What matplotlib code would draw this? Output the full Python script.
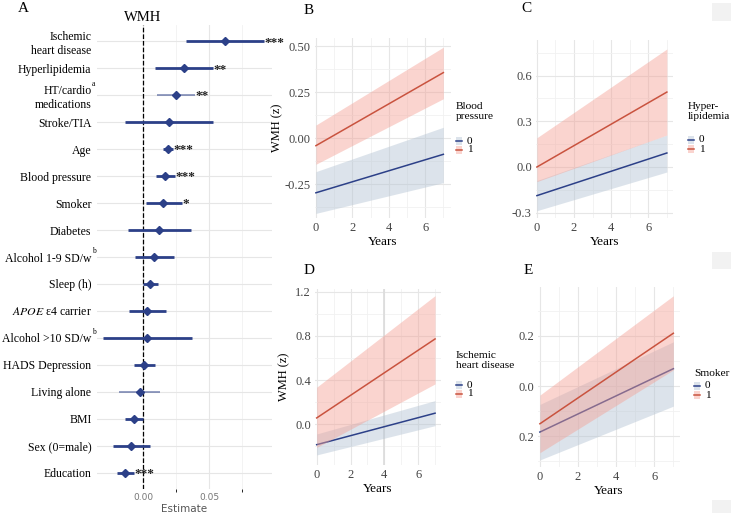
import matplotlib
matplotlib.use("Agg")
import matplotlib.pyplot as plt
from matplotlib.patches import Rectangle
from matplotlib.lines import Line2D

plt.rcParams['font.family'] = ['Liberation Serif', 'DejaVu Serif']
plt.rcParams['mathtext.fontset'] = 'stix'

# ---- Panel A data (top to bottom) ----
predictors = ["Ischemic\nheart disease", "Hyperlipidemia", "HT/cardio\nmedications",
              "Stroke/TIA", "Age", "Blood pressure", "Smoker", "Diabetes",
              "Alcohol 1-9 SD/w", "Sleep (h)", "$\\mathit{APOE}$ ε4 carrier",
              "Alcohol >10 SD/w", "HADS Depression", "Living alone", "BMI",
              "Sex (0=male)", "Education"]
footnotes = ["", "", "a", "", "", "", "", "", "b", "", "", "b", "", "", "", "", ""]
estimate = [0.0621, 0.0308, 0.0248, 0.0197, 0.0187, 0.0164, 0.0154, 0.0124,
            0.0086, 0.0055, 0.0030, 0.0028, 0.0010, -0.0025, -0.0068, -0.0089, -0.0134]
ci_low = [0.0326, 0.0091, 0.0106, -0.0134, 0.0149, 0.0101, 0.0023, -0.0116,
          -0.0060, -0.0002, -0.0104, -0.0300, -0.0068, -0.0179, -0.0134, -0.0225, -0.0197]
ci_high = [0.0917, 0.0528, 0.0392, 0.0528, 0.0225, 0.0240, 0.0293, 0.0366,
           0.0235, 0.0116, 0.0172, 0.0371, 0.0088, 0.0131, 0.0002, 0.0051, -0.0066]
stars = ["***", "**", "**", "", "***", "***", "*", "", "", "", "", "", "", "", "", "", "***"]

# ---- Panels B-E data: model predictions at year 0 and year 7 ----
years = [0, 7]
bp0_fit, bp0_lo, bp0_hi = [-0.296, -0.087], [-0.408, -0.241], [-0.181, 0.060]
bp1_fit, bp1_lo, bp1_hi = [-0.040, 0.357], [-0.141, 0.215], [0.072, 0.495]
hl0_fit, hl0_lo, hl0_hi = [-0.188, 0.092], [-0.287, -0.033], [-0.089, 0.210]
hl1_fit, hl1_lo, hl1_hi = [0.000, 0.492], [-0.096, 0.210], [0.192, 0.775]
ihd0_fit, ihd0_lo, ihd0_hi = [-0.185, 0.100], [-0.278, -0.013], [-0.088, 0.214]
ihd1_fit, ihd1_lo, ihd1_hi = [0.057, 0.772], [-0.210, 0.365], [0.335, 1.164]
sm0_fit, sm0_lo, sm0_hi = [-0.183, 0.069], [-0.294, -0.080], [-0.073, 0.176]
sm1_fit, sm1_lo, sm1_hi = [-0.150, 0.210], [-0.265, 0.064], [-0.036, 0.359]
group_labels = ["0", "1"]

W, H = 731, 513
fig = plt.figure(figsize=(W / 100, H / 100), dpi=100)

def px_axes(left, top, right, bottom):
    return fig.add_axes([left / W, 1 - bottom / H, (right - left) / W, (bottom - top) / H])

def fx(x):
    return x / W

def fy(y):
    return 1 - y / H

navy = "#2c4088"
red = "#c9533f"
blue_fill = "#b3c3d3"
red_fill = "#f4a196"
grid_major = "#e6e6e6"
grid_minor = "#f1f1f1"

# ---------------- Panel A ----------------
ax = px_axes(97, 25, 272, 489)
n = len(predictors)
ypos = list(range(n, 0, -1))
faded = {2, 13}
for i in range(n):
    a = 0.55 if i in faded else 1.0
    lw = 1.3 if i in faded else 2.0
    ax.plot([ci_low[i], ci_high[i]], [ypos[i], ypos[i]], color=navy, lw=lw, alpha=a,
            solid_capstyle='butt', zorder=3)
    ax.plot(estimate[i], ypos[i], marker='D', ms=4.5, color=navy, zorder=4)
    if stars[i]:
        ax.text(ci_high[i] + 0.0004, ypos[i] - 0.05, stars[i], fontsize=9.5, fontweight='bold',
                ha='left', va='center', color='#222222')
    if footnotes[i]:
        rise = 8 if "\n" in predictors[i] else 4
        ax.annotate(footnotes[i], xy=(0, ypos[i]), xycoords=('axes fraction', 'data'),
                    xytext=(-3.5, rise), textcoords='offset points', fontsize=5.5,
                    ha='left', va='center')
ax.axvline(0, color='black', ls='--', lw=0.9, zorder=2)
ax.set_xlim(-0.0348, 0.0977)
ax.set_ylim(0.4, n + 0.6)
ax.set_yticks(ypos)
ax.set_yticklabels(predictors, fontsize=8.5, linespacing=1.25)
ax.set_xticks([0.0, 0.05])
ax.set_xticklabels(["0.00", "0.05"], fontsize=6.5, color='#777777', family='DejaVu Sans')
ax.set_xticks([0.025, 0.075], minor=True)
ax.grid(True, which='major', color=grid_major, lw=0.8)
ax.grid(True, which='minor', axis='x', color=grid_minor, lw=0.6)
ax.tick_params(length=0, pad=3)
ax.tick_params(axis='y', pad=4)
for s in ax.spines.values():
    s.set_visible(False)
ax.set_xlabel("Estimate", fontsize=7.5, color='#555555', family='DejaVu Sans', labelpad=1)
ax.text(0, n + 0.62, "WMH", fontsize=10.5, ha='center', va='bottom')
fig.text(fx(18), fy(9), "A", fontsize=11, va='center', ha='left')

# ---------------- Panels B-E ----------------
def draw_legend(x, title_top, title, entry_y, size=8.2):
    fig.text(fx(x), fy(title_top), title, fontsize=size, va='top', ha='left', linespacing=1.2)
    for yy, fill, col, lab in zip(entry_y, [blue_fill, red_fill], [navy, red], group_labels):
        fig.patches.append(Rectangle((fx(x), fy(yy + 4)), 6 / W, 8 / H, transform=fig.transFigure,
                                     facecolor=fill, alpha=0.45, edgecolor='none'))
        fig.lines.append(Line2D([fx(x), fx(x + 6)], [fy(yy), fy(yy)], transform=fig.transFigure,
                                color=col, lw=1.1))
        fig.text(fx(x + 11), fy(yy), lab, fontsize=8.2, va='center', ha='left')

def trend_panel(box, xlim, ylim, yticks, ylabels, yminor, g0, g1, label, label_xy, ylab_x=None):
    ax = px_axes(*box)
    fit0, lo0, hi0 = g0
    fit1, lo1, hi1 = g1
    ax.fill_between(years, lo0, hi0, color=blue_fill, alpha=0.45, lw=0, zorder=2)
    ax.plot(years, fit0, color=navy, lw=1.1, zorder=3)
    ax.fill_between(years, lo1, hi1, color=red_fill, alpha=0.45, lw=0, zorder=4)
    ax.plot(years, fit1, color=red, lw=1.1, zorder=5)
    ax.set_xlim(*xlim)
    ax.set_ylim(*ylim)
    ax.set_xticks([0, 2, 4, 6])
    ax.set_xticks([1, 3, 5, 7], minor=True)
    ax.set_yticks(yticks)
    ax.set_yticklabels(ylabels, fontsize=9, color='#444444')
    ax.set_yticks(yminor, minor=True)
    ax.tick_params(axis='x', labelsize=9, labelcolor='#444444')
    ax.tick_params(length=0, pad=3, which='both')
    ax.grid(True, which='major', color=grid_major, lw=0.8)
    ax.grid(True, which='minor', color=grid_minor, lw=0.6)
    ax.set_axisbelow(True)
    for s in ax.spines.values():
        s.set_visible(False)
    ax.set_xlabel("Years", fontsize=9.5, labelpad=1)
    if ylab_x is not None:
        ax.set_ylabel("WMH (z)", fontsize=9)
        ax.yaxis.set_label_coords(ylab_x, 0.5)
    fig.text(fx(label_xy[0]), fy(label_xy[1]), label, fontsize=11, va='center', ha='left')
    return ax

trend_panel((315, 38, 451, 218), (-0.05, 7.42), (-0.433, 0.545),
            [-0.25, 0.0, 0.25, 0.5], ["-0.25", "0.00", "0.25", "0.50"], [-0.375, -0.125, 0.125, 0.375],
            (bp0_fit, bp0_lo, bp0_hi), (bp1_fit, bp1_lo, bp1_hi),
            "B", (304, 10), ylab_x=-0.235)
draw_legend(456, 102, "Blood\npressure", [141, 150])

trend_panel((536, 40, 673, 218), (-0.05, 7.33), (-0.335, 0.834),
            [-0.3, 0.0, 0.3, 0.6], ["-0.3", "0.0", "0.3", "0.6"], [-0.15, 0.15, 0.45, 0.75],
            (hl0_fit, hl0_lo, hl0_hi), (hl1_fit, hl1_lo, hl1_hi),
            "C", (521, 9))
draw_legend(688, 102, "Hyper-\nlipidemia", [140, 149], size=8.0)

ax_d = trend_panel((315, 289, 441, 465), (-0.1, 7.35), (-0.369, 1.224),
                   [0.0, 0.4, 0.8, 1.2], ["0.0", "0.4", "0.8", "1.2"], [-0.2, 0.2, 0.6, 1.0],
                   (ihd0_fit, ihd0_lo, ihd0_hi), (ihd1_fit, ihd1_lo, ihd1_hi),
                   "D", (304, 270), ylab_x=-0.2)
ax_d.axvline(4, color='#dddddd', lw=1.3, zorder=1)
draw_legend(456, 351, "Ischemic\nheart disease", [385, 394])

trend_panel((538, 287, 680, 467), (-0.1, 7.35), (-0.322, 0.394),
            [-0.2, 0.0, 0.2], ["0.2", "0.0", "0.2"], [-0.3, -0.1, 0.1, 0.3],
            (sm0_fit, sm0_lo, sm0_hi), (sm1_fit, sm1_lo, sm1_hi),
            "E", (524, 270))
draw_legend(694, 369, "Smoker", [386, 395])

# light grey boxes at the right edge of the page
for (bx, by, bw, bh) in [(712, 3, 19, 18), (712, 252, 19, 17), (712, 500, 19, 13)]:
    fig.patches.append(Rectangle((fx(bx), fy(by + bh)), bw / W, bh / H,
                                 transform=fig.transFigure, facecolor='#f2f2f2', edgecolor='none'))

fig.savefig("out.png", dpi=100)
